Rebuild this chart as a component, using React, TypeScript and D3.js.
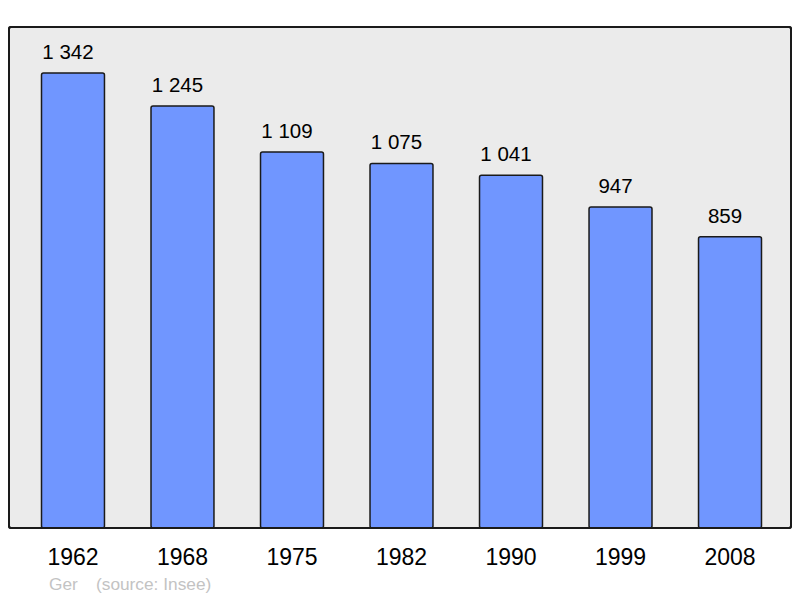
import React from "react";
import * as d3 from "d3";

const years = ["1962", "1968", "1975", "1982", "1990", "1999", "2008"];
const population = [1342, 1245, 1109, 1075, 1041, 947, 859];
const valueLabels = ["1 342", "1 245", "1 109", "1 075", "1 041", "947", "859"];
const footerName = "Ger";
const footerSource = "(source: Insee)";

const W = 800;
const H = 598;
const frame = { x0: 9, y0: 27, x1: 791, y1: 528 };

export default function App() {
  const x = d3
    .scaleBand<string>()
    .domain(years)
    .range([19.6, 783.4])
    .paddingInner(0.425)
    .paddingOuter(0.2);
  const y = d3.scaleLinear().domain([0, 1478]).range([frame.y1, frame.y0]);
  const font = "'Liberation Sans', Arial, sans-serif";

  return (
    <svg
      width={W}
      height={H}
      style={{ position: "absolute", left: 0, top: 0, background: "#fff" }}
      fontFamily={font}
    >
      <rect
        x={frame.x0}
        y={frame.y0}
        width={frame.x1 - frame.x0}
        height={frame.y1 - frame.y0}
        rx={2}
        fill="#ebebeb"
        stroke="#1a1a1a"
        strokeWidth={2}
      />
      {years.map((yr, i) => {
        const bx = x(yr)!;
        const bw = x.bandwidth();
        const top = y(population[i]);
        const cx = bx + bw / 2;
        return (
          <g key={yr}>
            <rect
              x={bx}
              y={top}
              width={bw}
              height={frame.y1 - top}
              rx={2}
              fill="#7096ff"
              stroke="#1a1a1a"
              strokeWidth={1.5}
            />
            <text
              x={cx - 5}
              y={top - 14.3}
              textAnchor="middle"
              fontSize={20.5}
              fill="#000"
            >
              {valueLabels[i]}
            </text>
            <text x={cx} y={565} textAnchor="middle" fontSize={23} fill="#000">
              {yr}
            </text>
          </g>
        );
      })}
      <rect
        x={frame.x0}
        y={frame.y0}
        width={frame.x1 - frame.x0}
        height={frame.y1 - frame.y0}
        rx={2}
        fill="none"
        stroke="#1a1a1a"
        strokeWidth={2}
      />
      <text x={49} y={590} fontSize={17.3} fill="#c3c3c3">
        {footerName}
      </text>
      <text x={96} y={590} fontSize={17.3} fill="#c3c3c3">
        {footerSource}
      </text>
    </svg>
  );
}
